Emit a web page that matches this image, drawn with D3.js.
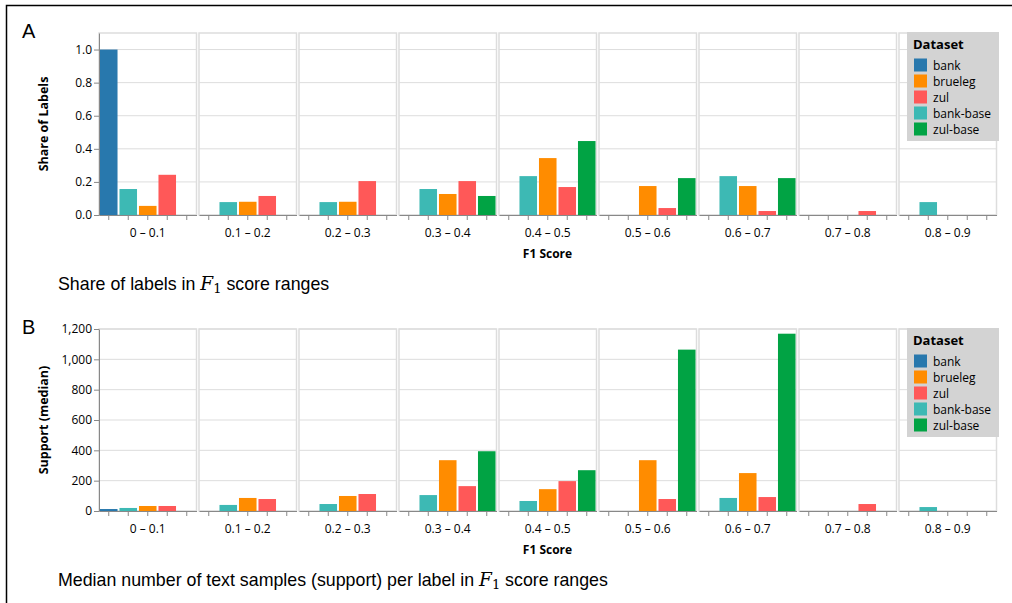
<!DOCTYPE html>
<html>
<head>
<meta charset="utf-8">
<script src="https://cdn.jsdelivr.net/npm/d3@7"></script>
<style>
  body { margin: 0; background: #fff; }
</style>
</head>
<body>
<svg id="chart" width="1012" height="603" font-family="Open Sans, Noto Sans, sans-serif"></svg>
<script>
const bins = ["0 – 0.1", "0.1 – 0.2", "0.2 – 0.3", "0.3 – 0.4", "0.4 – 0.5",
              "0.5 – 0.6", "0.6 – 0.7", "0.7 – 0.8", "0.8 – 0.9"]
const datasets = ["bank", "brueleg", "zul", "bank-base", "zul-base"]   // legend order
const barOrder = ["bank", "bank-base", "brueleg", "zul", "zul-base"]   // order inside a facet
const colors = ["#2878ad", "#ff8c00", "#ff5858", "#3db9b4", "#01a344"]

// share of labels per bin (null = no bar)
const shareBank     = [1.0, null, null, null, null, null, null, null, null]
const shareBrueleg  = [0.055, 0.08, 0.08, 0.127, 0.344, 0.175, 0.175, null, null]
const shareZul      = [0.243, 0.115, 0.205, 0.205, 0.169, 0.042, 0.024, 0.024, null]
const shareBankBase = [0.157, 0.078, 0.078, 0.157, 0.235, null, 0.235, null, 0.078]
const shareZulBase  = [null, null, null, 0.115, 0.447, 0.223, 0.223, null, null]

// median support per bin
const supBank     = [13, null, null, null, null, null, null, null, null]
const supBrueleg  = [33, 86, 99, 335, 144, 335, 250, null, null]
const supZul      = [33, 79, 112, 164, 197, 79, 92, 46, null]
const supBankBase = [20, 40, 46, 105, 66, null, 86, null, 26]
const supZulBase  = [null, null, null, 394, 269, 1064, 1169, null, null]

const shareTicks = [0, 0.2, 0.4, 0.6, 0.8, 1.0]
const supTicks = [0, 200, 400, 600, 800, 1000, 1200]

function toRows(series) {
  const rows = []
  datasets.forEach((ds, k) => {
    series[k].forEach((v, i) => {
      if (v != null) rows.push({bin: bins[i], dataset: ds, value: v})
    })
  })
  return rows
}

const shareRows = toRows([shareBank, shareBrueleg, shareZul, shareBankBase, shareZulBase])
const supRows = toRows([supBank, supBrueleg, supZul, supBankBase, supZulBase])

const color = d3.scaleOrdinal().domain(datasets).range(colors)

const svg = d3.select("#chart")
const capFont = "Liberation Sans, Arial, sans-serif"

// outer frame (runs past the window on the right and bottom)
svg.append("rect")
  .attr("x", 6.5).attr("y", 5.5)
  .attr("width", 1200).attr("height", 800)
  .attr("fill", "none").attr("stroke", "#000").attr("stroke-width", 1.5)

const fx = d3.scaleBand()
  .domain(bins)
  .range([99, 996.5])
  .paddingInner(0.025)

const x = d3.scaleBand()
  .domain(barOrder)
  .range([0, fx.bandwidth()])
  .paddingInner(0.1)
  .paddingOuter(0.05)

function drawPanel(top, opt) {
  const bottom = top + 182
  const y = d3.scaleLinear().domain(opt.domain).range([bottom, top])
  const g = svg.append("g")

  // panel letter
  g.append("text")
    .attr("x", 22).attr("y", top + 5)
    .style("font-family", capFont)
    .attr("font-size", 20)
    .text(opt.letter)

  const cells = g.selectAll(".cell")
    .data(bins)
    .join("g")
    .attr("class", "cell")
    .attr("transform", d => `translate(${fx(d)},0)`)

  // grid lines
  cells.selectAll(".grid")
    .data(opt.ticks)
    .join("line")
    .attr("x1", 0).attr("x2", fx.bandwidth())
    .attr("y1", d => y(d)).attr("y2", d => y(d))
    .attr("stroke", "#ddd")

  // cell frame
  cells.append("rect")
    .attr("x", 0).attr("y", top)
    .attr("width", fx.bandwidth()).attr("height", bottom - top)
    .attr("fill", "none").attr("stroke", "#ddd").attr("stroke-width", 1.5)

  // bars
  cells.selectAll(".bar")
    .data(b => opt.rows.filter(r => r.bin === b))
    .join("rect")
    .attr("class", "bar")
    .attr("x", d => x(d.dataset))
    .attr("width", x.bandwidth())
    .attr("y", d => y(d.value))
    .attr("height", d => y(0) - y(d.value))
    .attr("fill", d => color(d.dataset))

  // x axis per facet
  cells.append("g")
    .attr("transform", `translate(0,${bottom})`)
    .call(d3.axisBottom(x).tickSize(5).tickSizeOuter(0).tickFormat(""))
    .call(a => a.selectAll("line, path").attr("stroke", "#888"))

  cells.append("text")
    .attr("x", fx.bandwidth() / 2)
    .attr("y", bottom + 22)
    .attr("text-anchor", "middle")
    .attr("font-size", 12)
    .attr("fill", "#000")
    .text(d => d)

  g.append("text")
    .attr("x", 547.5)
    .attr("y", bottom + 43)
    .attr("text-anchor", "middle")
    .attr("font-size", 12)
    .attr("font-weight", "bold")
    .text("F1 Score")

  // y axis
  g.append("g")
    .attr("transform", `translate(${fx(bins[0])},0)`)
    .call(d3.axisLeft(y).tickValues(opt.ticks).tickSize(5).tickPadding(2)
      .tickSizeOuter(0).tickFormat(d3.format(opt.format)))
    .call(a => a.selectAll("line, path").attr("stroke", "#888"))
    .call(a => a.selectAll("text").attr("font-size", 12).attr("fill", "#000")
      .attr("font-family", "Open Sans, sans-serif"))

  g.append("text")
    .attr("transform", `translate(48,${(top + bottom) / 2}) rotate(-90)`)
    .attr("text-anchor", "middle")
    .attr("font-size", 12.5)
    .attr("font-weight", "bold")
    .text(opt.yTitle)

  // legend
  const lg = g.append("g").attr("transform", `translate(907,${top - 1})`)
  lg.append("rect")
    .attr("width", 92).attr("height", 109)
    .attr("fill", "#d3d3d3")
  lg.append("text")
    .attr("x", 6).attr("y", 17)
    .attr("font-size", 13).attr("font-weight", "bold")
    .text("Dataset")
  const items = lg.selectAll(".item")
    .data(datasets)
    .join("g")
    .attr("transform", (d, i) => `translate(7,${33 + i * 16})`)
  items.append("rect")
    .attr("x", 0).attr("y", -6.5)
    .attr("width", 13).attr("height", 13)
    .attr("fill", d => color(d))
  items.append("text")
    .attr("x", 19).attr("y", 4.5)
    .attr("font-size", 12)
    .text(d => d)

  // caption
  const cap = g.append("text")
    .attr("x", 58).attr("y", bottom + 75)
    .style("font-family", capFont)
    .attr("font-size", 17.8)
  cap.append("tspan").text(opt.caption[0])
  cap.append("tspan")
    .style("font-family", "DejaVu Serif, serif")
    .attr("font-style", "italic")
    .attr("font-size", 18.5)
    .text("F")
  cap.append("tspan")
    .style("font-family", "DejaVu Serif, serif")
    .attr("font-size", 13)
    .attr("dy", 3)
    .text("1")
  cap.append("tspan")
    .attr("dy", -3)
    .text(opt.caption[1])
}

drawPanel(33, {
  letter: "A",
  domain: [0, 1.1],
  ticks: shareTicks,
  format: ".1f",
  rows: shareRows,
  yTitle: "Share of Labels",
  caption: ["Share of labels in ", " score ranges"]
})

drawPanel(329, {
  letter: "B",
  domain: [0, 1200],
  ticks: supTicks,
  format: ",",
  rows: supRows,
  yTitle: "Support (median)",
  caption: ["Median number of text samples (support) per label in ", " score ranges"]
})
</script>
</body>
</html>
